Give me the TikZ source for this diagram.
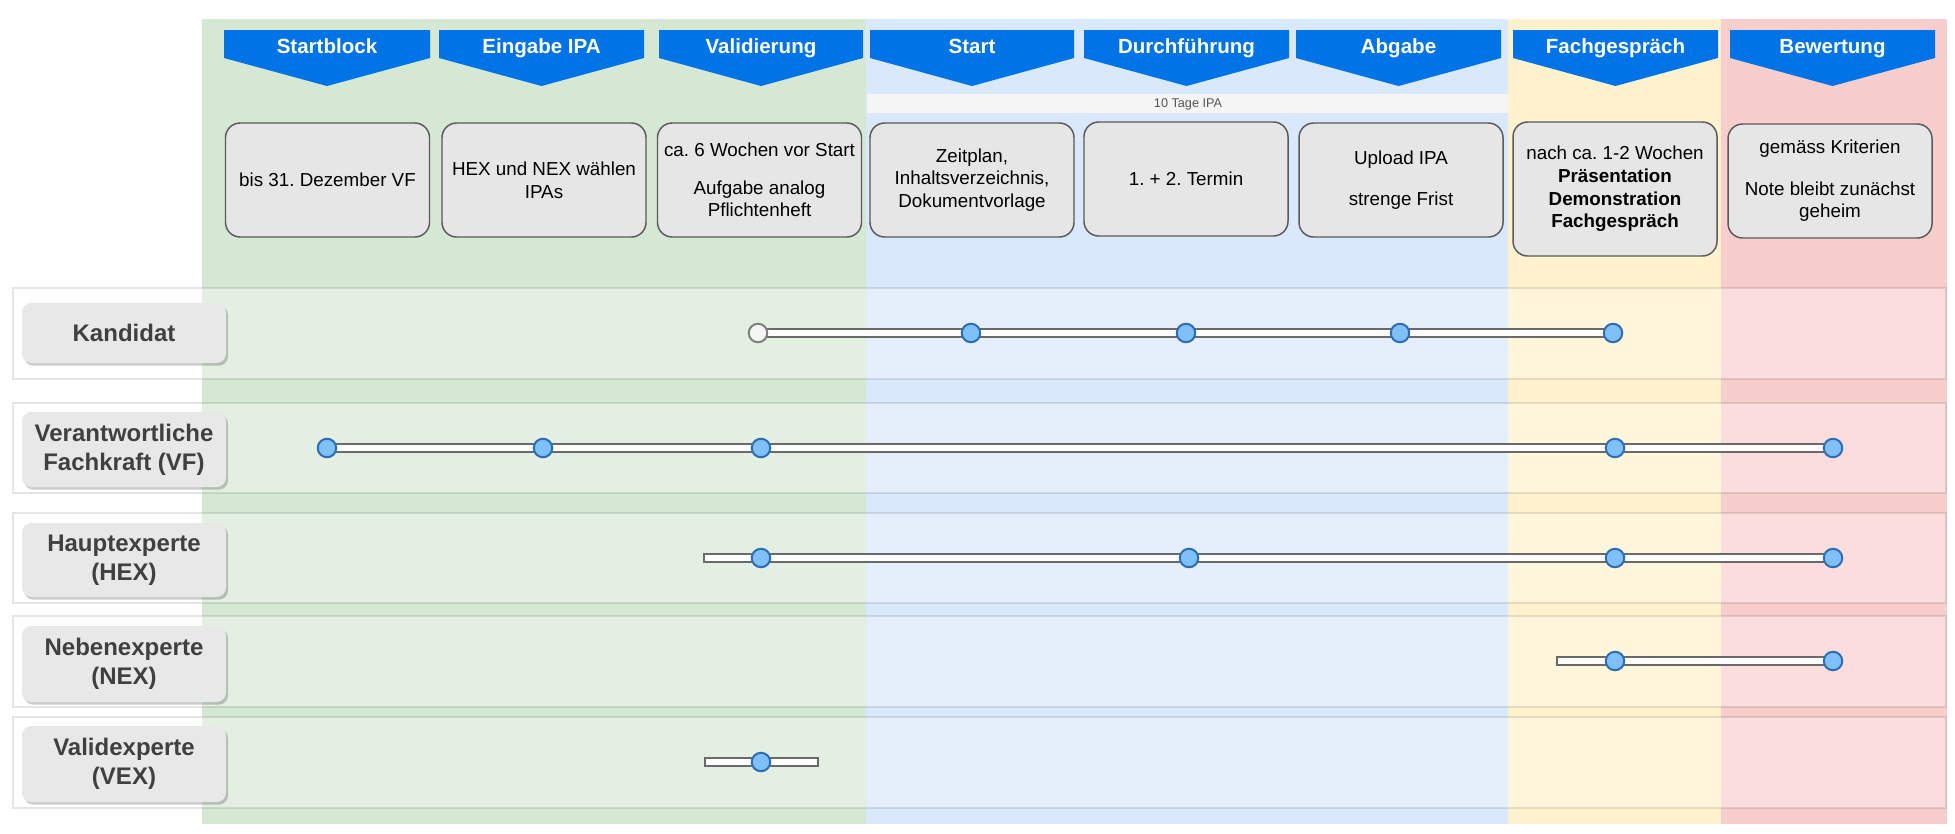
\documentclass[tikz,border=0pt]{standalone}
\usepackage{fontspec}
\setmainfont{Liberation Sans}
\usetikzlibrary{shadows}
\frenchspacing
\newdimen\pxu \pxu=0.75pt
\definecolor{cgreen}{HTML}{D5E8D4}
\definecolor{cblue}{HTML}{DAE8FC}
\definecolor{cyellow}{HTML}{FFF2CC}
\definecolor{cred}{HTML}{F8CECC}
\definecolor{hdrblue}{HTML}{0073E6}
\definecolor{boxfill}{HTML}{E6E6E6}
\definecolor{lblfill}{HTML}{E8E8E8}
\definecolor{boxline}{HTML}{5A5A5A}
\definecolor{dotfill}{HTML}{7FC0F9}
\definecolor{dotline}{HTML}{2E6DB4}
\definecolor{lbltext}{HTML}{404040}
\definecolor{striptext}{HTML}{555555}
\definecolor{stripfill}{HTML}{F5F5F5}
\definecolor{barline}{HTML}{6A6A6A}
\newcommand\hdrarrow[4]{%
  \fill[hdrblue] (#2,30) -- (#3,30) -- (#3,58) -- ({(#2+#3)/2},86) -- (#2,58) -- cycle;
  \node[hdrtext] (#1) at ({(#2+#3)/2},53) {#4};}
\begin{document}
\begin{tikzpicture}[x=0.75pt,y=-0.75pt,
  hdrtext/.style={text=white,font=\fontsize{15.4}{18}\selectfont\bfseries,inner sep=0pt,anchor=base},
  infobox/.style={draw=boxline,fill=boxfill,line width=1.1pt,rounded corners=11pt,
    minimum width=204\pxu,minimum height=114\pxu,align=center,
    font=\fontsize{14.1}{17}\selectfont,inner sep=2pt},
  rowband/.style={fill=white,fill opacity=0.32,draw=black,draw opacity=0.1,line width=1.5pt},
  lblbox/.style={fill=lblfill,rounded corners=7pt,minimum width=204\pxu,align=center,
    text=lbltext,font=\fontsize{18}{21.75}\selectfont\bfseries,inner sep=2pt,
    drop shadow={shadow xshift=1.5pt,shadow yshift=-2pt,fill=black,opacity=0.2}},
  dot/.style={circle,fill=dotfill,draw=dotline,line width=1.5pt,minimum size=18.5\pxu,inner sep=0pt},
  wdot/.style={dot,fill=white!96!black,draw=gray},
  bar/.style={fill=white,draw=barline,line width=0.8pt}
]
\useasboundingbox[fill=white] (0,0) rectangle (1955,833);
% columns
\fill[cgreen]  (202,19) rectangle (866,824);
\fill[cblue]   (866,19) rectangle (1508,824);
\fill[cyellow] (1508,19) rectangle (1721,824);
\fill[cred]    (1721,19) rectangle (1947,824);
% strip
\fill[stripfill] (867,94) rectangle (1508,113);
\node[font=\fontsize{9.5}{11}\selectfont,text=striptext,inner sep=0pt] (tage) at (1188,104) {10 Tage IPA};
% headers
\hdrarrow{h1}{224}{430}{Startblock}
\hdrarrow{h2}{439}{644}{Eingabe IPA}
\hdrarrow{h3}{659}{863}{Validierung}
\hdrarrow{h4}{870}{1074}{Start}
\hdrarrow{h5}{1084}{1289}{Durchführung}
\hdrarrow{h6}{1296}{1501}{Abgabe}
\hdrarrow{h7}{1513}{1718}{Fachgespräch}
\hdrarrow{h8}{1730}{1935}{Bewertung}
% info boxes
\node[infobox] (b1) at (327.5,180) {bis 31. Dezember VF};
\node[infobox] (b2) at (544,180) {HEX und NEX wählen\\IPAs};
\node[infobox] (b3) at (759.5,180) {ca. 6 Wochen vor Start\\[11pt]Aufgabe analog\\Pflichtenheft};
\node[infobox] (b4) at (972,180) {Zeitplan,\\Inhaltsverzeichnis,\\Dokumentvorlage};
\node[infobox] (b5) at (1186,179) {1. + 2. Termin};
\node[infobox] (b6) at (1401,180) {Upload IPA\\[14pt]strenge Frist};
\node[infobox,minimum height=134\pxu] (b7) at (1615,189) {nach ca. 1-2 Wochen\\\textbf{Präsentation}\\\textbf{Demonstration}\\\textbf{Fachgespräch}};
\node[infobox] (b8) at (1830,181) {\rule{0pt}{6pt}gemäss Kriterien\\[14pt]Note bleibt zunächst\\geheim};
% row bands
\draw[rowband] (13,288) rectangle (1946,379);
\draw[rowband] (13,403) rectangle (1946,493);
\draw[rowband] (13,513) rectangle (1946,603);
\draw[rowband] (13,616) rectangle (1946,707);
\draw[rowband] (13,717) rectangle (1946,808);
% labels
\node[lblbox,minimum height=60\pxu] (l1) at (124,333) {Kandidat};
\node[lblbox,minimum height=75\pxu] (l2) at (124,449.5) {Verantwortliche\\Fachkraft (VF)};
\node[lblbox,minimum height=74\pxu] (l3) at (124,560) {Hauptexperte\\(HEX)};
\node[lblbox,minimum height=76\pxu] (l4) at (124,664) {Nebenexperte\\(NEX)};
\node[lblbox,minimum height=76\pxu] (l5) at (124,764) {Validexperte\\(VEX)};
% row 1 Kandidat
\coordinate (k0) at (758,333);
\coordinate (k4) at (1613,333);
\draw[bar] ([yshift=3pt]k0) rectangle ([yshift=-3pt]k4);
\node[wdot] (kd0) at (k0) {};
\node[dot] (kd1) at (971,333) {};
\node[dot] (kd2) at (1186,333) {};
\node[dot] (kd3) at (1400,333) {};
\node[dot] (kd4) at (k4) {};
% row 2 VF
\coordinate (v0) at (327,448);
\coordinate (v4) at (1833,448);
\draw[bar] ([yshift=3pt]v0) rectangle ([yshift=-3pt]v4);
\node[dot] (vd0) at (v0) {};
\node[dot] (vd1) at (543,448) {};
\node[dot] (vd2) at (761,448) {};
\node[dot] (vd3) at (1615,448) {};
\node[dot] (vd4) at (v4) {};
% row 3 HEX
\coordinate (x0) at (704,558);
\coordinate (x4) at (1833,558);
\draw[bar] ([yshift=3pt]x0) rectangle ([yshift=-3pt]x4);
\node[dot] (xd1) at (761,558) {};
\node[dot] (xd2) at (1189,558) {};
\node[dot] (xd3) at (1615,558) {};
\node[dot] (xd4) at (x4) {};
% row 4 NEX
\coordinate (n0) at (1557,661);
\coordinate (n2) at (1833,661);
\draw[bar] ([yshift=3pt]n0) rectangle ([yshift=-3pt]n2);
\node[dot] (nd1) at (1615,661) {};
\node[dot] (nd2) at (n2) {};
% row 5 VEX
\coordinate (e0) at (705,762);
\coordinate (e2) at (818,762);
\draw[bar] ([yshift=3pt]e0) rectangle ([yshift=-3pt]e2);
\node[dot] (ed1) at (761,762) {};
\end{tikzpicture}
\end{document}
